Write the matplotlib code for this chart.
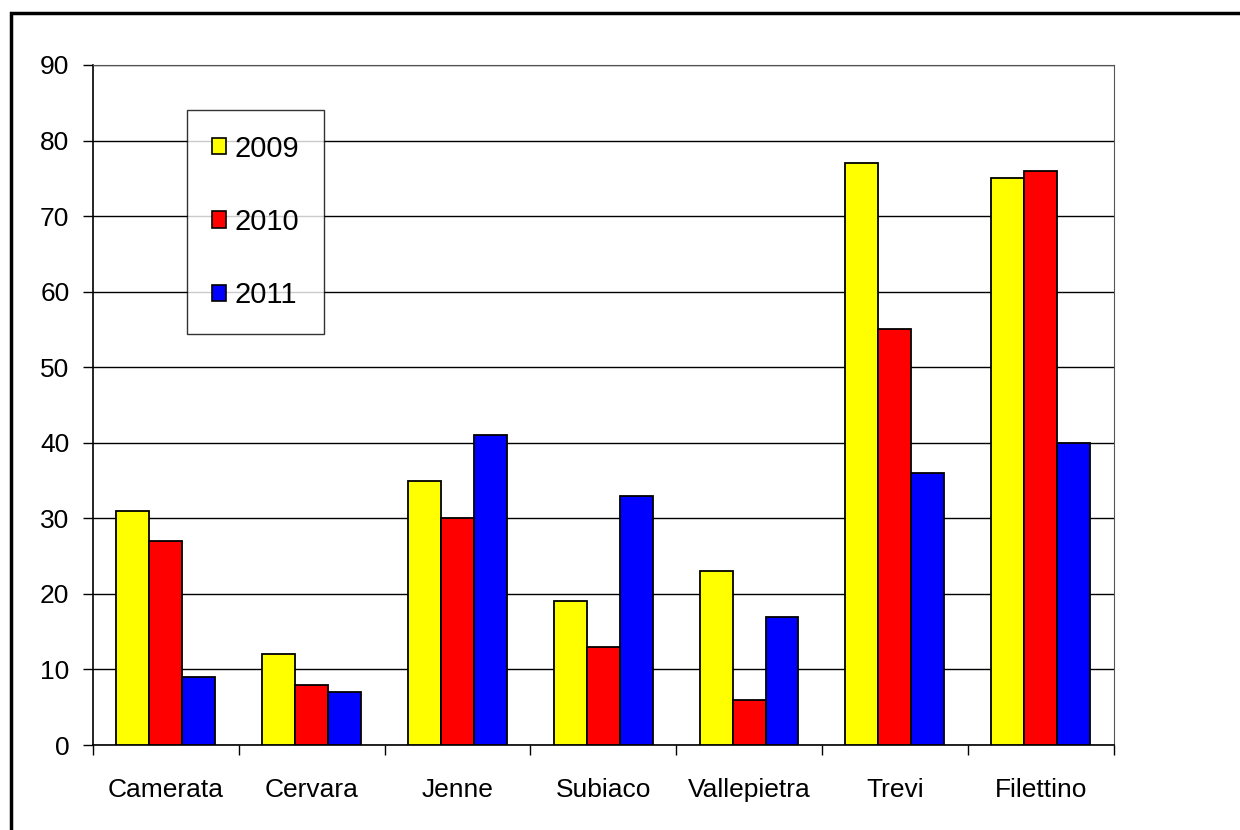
import numpy as np
import matplotlib
matplotlib.use("Agg")
from matplotlib import pyplot as plt
from matplotlib.patches import Patch, Rectangle

plt.rcParams['font.family'] = ['Liberation Sans', 'DejaVu Sans']

places = ["Camerata", "Cervara", "Jenne", "Subiaco", "Vallepietra", "Trevi", "Filettino"]
years = ["2009", "2010", "2011"]
v2009 = [31, 12, 35, 19, 23, 77, 75]
v2010 = [27, 8, 30, 13, 6, 55, 76]
v2011 = [9, 7, 41, 33, 17, 36, 40]
colors = ["#ffff00", "#ff0000", "#0000ff"]

fig = plt.figure(figsize=(12.4, 8.3), dpi=100)
ax = fig.add_axes([0.075, 0.1024, 0.823, 0.8193])

x = np.arange(len(places))
w = 0.226
for i, vals in enumerate([v2009, v2010, v2011]):
    ax.bar(x + (i - 1) * w, vals, width=w, color=colors[i], edgecolor="black",
           linewidth=1.3, zorder=3)

ax.set_xlim(-0.5, len(places) - 0.5)
ax.set_ylim(0, 90)
ax.set_yticks(range(0, 91, 10))
ax.yaxis.grid(True, color="black", linewidth=1.0, zorder=0)
ax.set_xticks(x)
ax.set_xticklabels(places, fontsize=19)
ax.tick_params(axis="x", length=0, pad=24)
ax.set_xticks(np.arange(-0.5, len(places), 1), minor=True)
ax.tick_params(axis="x", which="minor", length=7, width=1, direction="out")
ax.tick_params(axis="y", labelsize=19, length=7, width=1, pad=10)

for s in ["top", "right"]:
    ax.spines[s].set_color("#555555")
ax.spines["left"].set_linewidth(1.2)
ax.spines["bottom"].set_linewidth(1.2)

handles = [Patch(facecolor=c, edgecolor="black", linewidth=1.2) for c in colors]
leg = ax.legend(handles, years, loc="upper left", bbox_to_anchor=(0.092, 0.934),
                fontsize=21, frameon=True, fancybox=False, edgecolor="black",
                handlelength=0.48, handleheight=0.48, handletextpad=0.3,
                labelspacing=1.55, borderpad=0.85, borderaxespad=0)
leg.get_frame().set_linewidth(1.0)
leg.set_zorder(5)
# the legend box in the picture has a wider inner margin on the left
leg._legend_box.align = "left"
for c in leg.get_children():
    pass

# outer black frame of the picture
fig.patches.append(Rectangle((11 / 1240, -0.05), 1.1, 1.05 - 13 / 830,
                             transform=fig.transFigure, fill=False,
                             edgecolor="black", linewidth=2.5))

fig.savefig("out.png", dpi=100)
